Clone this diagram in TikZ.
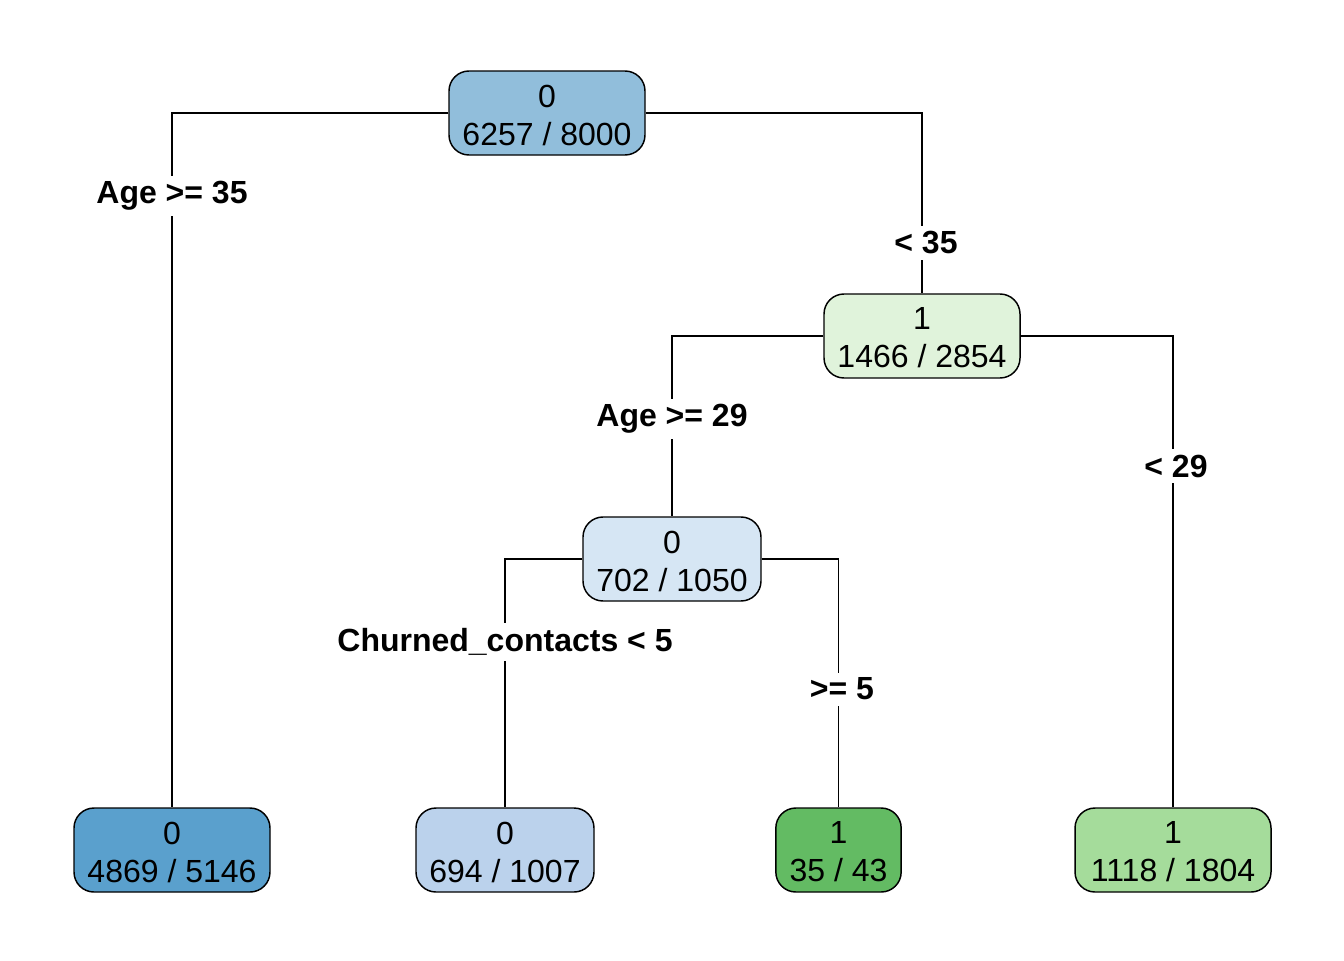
\documentclass[tikz,border=0pt]{standalone}
\usepackage{fontspec}
\setmainfont{Liberation Sans}
\definecolor{cRoot}{HTML}{91BEDB}
\definecolor{cDark}{HTML}{5AA0CD}
\definecolor{cLightB}{HTML}{D6E6F4}
\definecolor{cMidB}{HTML}{BBD2EC}
\definecolor{cLightG}{HTML}{E0F3DB}
\definecolor{cDarkG}{HTML}{63BB63}
\definecolor{cMidG}{HTML}{A5DC9B}
\tikzset{
  tnode/.style={draw=black, line width=1.1pt, rounded corners=15pt, minimum height=63pt,
    align=center, inner sep=0pt, font=\fontsize{24}{28.5}\selectfont},
  ttext/.style={inner sep=0pt, align=center, font=\fontsize{24}{28.5}\selectfont},
  elabel/.style={fill=white, inner sep=4pt, font=\fontsize{24}{28}\selectfont\bfseries},
  edge/.style={line width=1.1pt}
}
\begin{document}
\begin{tikzpicture}[x=0.75pt,y=-0.75pt]
\useasboundingbox (0,0) rectangle (1344,960);
\node[tnode, fill=cRoot, minimum width=147pt] (root) at (547,113) {};
\node[tnode, fill=cLightG, minimum width=147pt] (n1) at (922,336) {};
\node[tnode, fill=cLightB, minimum width=133.5pt] (n2) at (672,559) {};
\node[tnode, fill=cDark, minimum width=147pt] (l1) at (172,850) {};
\node[tnode, fill=cMidB, minimum width=133.5pt] (l2) at (505,850) {};
\node[tnode, fill=cDarkG, minimum width=94pt] (l3) at (838.5,850) {};
\node[tnode, fill=cMidG, minimum width=147pt] (l4) at (1173,850) {};

\node[ttext] (troot) at ([yshift=-1.5pt]root.center) {0\\6257 / 8000};
\node[ttext] (tn1) at ([yshift=-1.5pt]n1.center) {1\\1466 / 2854};
\node[ttext] (tn2) at ([yshift=-1.5pt]n2.center) {0\\702 / 1050};
\node[ttext] (tl1) at ([yshift=-1.5pt]l1.center) {0\\4869 / 5146};
\node[ttext] (tl2) at ([yshift=-1.5pt]l2.center) {0\\694 / 1007};
\node[ttext] (tl3) at ([yshift=-1.5pt]l3.center) {1\\35 / 43};
\node[ttext] (tl4) at ([yshift=-1.5pt]l4.center) {1\\1118 / 1804};

\draw[edge] (root.west) -| (l1.north);
\draw[edge] (root.east) -| (n1.north);
\draw[edge] (n1.west) -| (n2.north);
\draw[edge] (n1.east) -| (l4.north);
\draw[edge] (n2.west) -| (l2.north);
\draw[edge] (n2.east) -| (l3.north);

\node[elabel] (a1) at (172,196) {Age >= 35};
\node[elabel] (a2) at (926,243) {< 35};
\node[elabel] (a3) at (672,419) {Age >= 29};
\node[elabel] (a4) at (1176,466) {< 29};
\node[elabel] (a5) at (505,642) {Churned\_contacts < 5};
\node[elabel] (a6) at (842,689) {>= 5};
\end{tikzpicture}
\end{document}
